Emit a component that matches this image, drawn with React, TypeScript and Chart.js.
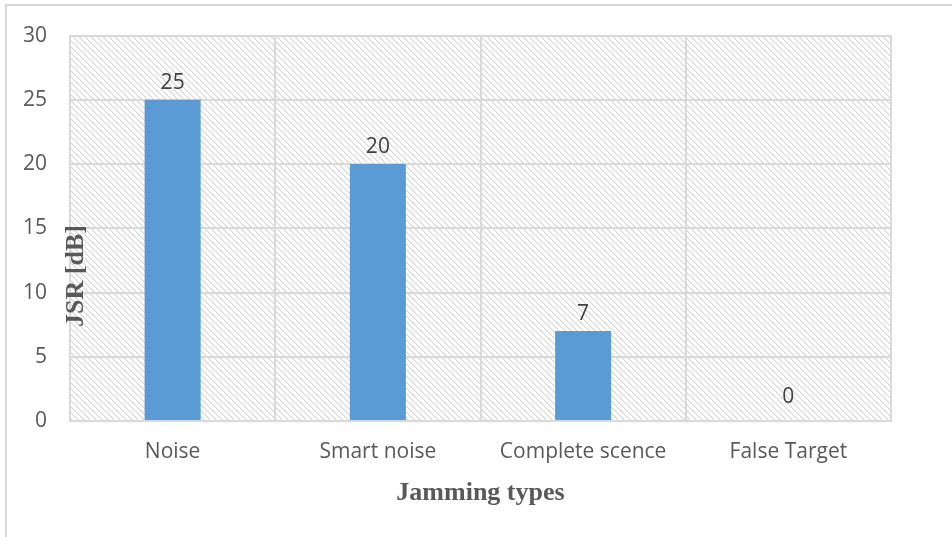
import React, { useEffect, useRef } from "react";
import { Chart, registerables } from "chart.js";

Chart.register(...registerables);

// Chart data
const categories = ["Noise", "Smart noise", "Complete scence", "False Target"];
const jsrValues = [25, 20, 7, 0];
const yTickValues = [0, 5, 10, 15, 20, 25, 30];
const xTitleText = "Jamming types";
const yTitleText = "JSR [dB]";

const W = 952;
const H = 537;

// Light diagonal hatch used to fill the plot area
function makeHatch(ctx: CanvasRenderingContext2D): CanvasPattern | string {
  const n = 6;
  const c = document.createElement("canvas");
  c.width = n;
  c.height = n;
  const g = c.getContext("2d");
  if (!g) return "#ffffff";
  g.fillStyle = "#ffffff";
  g.fillRect(0, 0, n, n);
  for (let y = 0; y < n; y++) {
    for (let x = 0; x < n; x++) {
      const d = (((x - y) % n) + n) % n;
      if (d === 0) {
        g.fillStyle = "#d5d5d5";
        g.fillRect(x, y, 1, 1);
      } else if (d === 1) {
        g.fillStyle = "#ececec";
        g.fillRect(x, y, 1, 1);
      }
    }
  }
  return ctx.createPattern(c, "repeat") || "#ffffff";
}

const backgroundPlugin = {
  id: "hatchBackground",
  beforeDraw(chart: any) {
    const { ctx, chartArea } = chart;
    ctx.save();
    ctx.fillStyle = "#ffffff";
    ctx.fillRect(0, 0, chart.width, chart.height);
    // outer frame
    ctx.strokeStyle = "#d9d9d9";
    ctx.lineWidth = 2;
    ctx.beginPath();
    ctx.moveTo(6, chart.height + 2);
    ctx.lineTo(6, 5);
    ctx.lineTo(chart.width + 2, 5);
    ctx.stroke();
    // hatched plot area
    ctx.fillStyle = makeHatch(ctx);
    ctx.fillRect(
      chartArea.left,
      chartArea.top,
      chartArea.right - chartArea.left,
      chartArea.bottom - chartArea.top
    );
    ctx.restore();
  },
};

const labelsPlugin = {
  id: "valueLabels",
  afterDatasetsDraw(chart: any) {
    const { ctx, chartArea } = chart;
    const meta = chart.getDatasetMeta(0);
    ctx.save();
    ctx.font = "21px 'Open Sans'";
    ctx.fillStyle = "#404040";
    ctx.textAlign = "center";
    ctx.textBaseline = "middle";
    meta.data.forEach((bar: any, i: number) => {
      const v = jsrValues[i];
      const off = v === 0 ? 24 : 17;
      ctx.fillText(String(v), bar.x, bar.y - off);
    });

    // axis titles
    ctx.fillStyle = "#595959";
    ctx.font = "bold 26px 'Liberation Serif'";
    ctx.fillText(xTitleText, (chartArea.left + chartArea.right) / 2, 493);

    ctx.translate(76, 276);
    ctx.rotate(-Math.PI / 2);
    ctx.fillText(yTitleText, 0, 0);
    ctx.restore();
  },
};

export default function App() {
  const canvasRef = useRef<HTMLCanvasElement | null>(null);

  useEffect(() => {
    const canvas = canvasRef.current;
    if (!canvas) return;
    const chart = new Chart(canvas, {
      type: "bar",
      data: {
        labels: categories,
        datasets: [
          {
            data: jsrValues,
            backgroundColor: "#5B9BD5",
            borderWidth: 0,
            categoryPercentage: 1,
            barPercentage: 0.273,
          },
        ],
      },
      plugins: [backgroundPlugin, labelsPlugin],
      options: {
        responsive: false,
        animation: false,
        devicePixelRatio: 1,
        layout: { padding: { left: 0, top: 34, right: 61, bottom: 0 } },
        plugins: {
          legend: { display: false },
          tooltip: { enabled: false },
          title: { display: false },
        },
        scales: {
          x: {
            afterFit: (s: any) => {
              s.height = 116;
            },
            grid: {
              color: "#d9d9d9",
              lineWidth: 2,
              drawTicks: false,
              offset: true,
            },
            border: { display: true, color: "#d9d9d9", width: 2 },
            ticks: {
              color: "#595959",
              font: { family: "'Open Sans'", size: 21 },
              padding: 18,
              maxRotation: 0,
            },
          },
          y: {
            min: 0,
            max: 30,
            afterFit: (s: any) => {
              s.width = 70;
            },
            afterBuildTicks: (s: any) => {
              s.ticks = yTickValues.map((v) => ({ value: v }));
            },
            grid: { color: "#d9d9d9", lineWidth: 2, drawTicks: false },
            border: { display: true, color: "#d9d9d9", width: 2 },
            ticks: {
              color: "#595959",
              font: { family: "'Open Sans'", size: 21 },
              padding: 23,
            },
          },
        },
      },
    });
    return () => chart.destroy();
  }, []);

  return (
    <div style={{ position: "absolute", left: 0, top: 0, width: W, height: H, background: "#fff" }}>
      <canvas ref={canvasRef} width={W} height={H} style={{ display: "block", width: W, height: H }} />
    </div>
  );
}
